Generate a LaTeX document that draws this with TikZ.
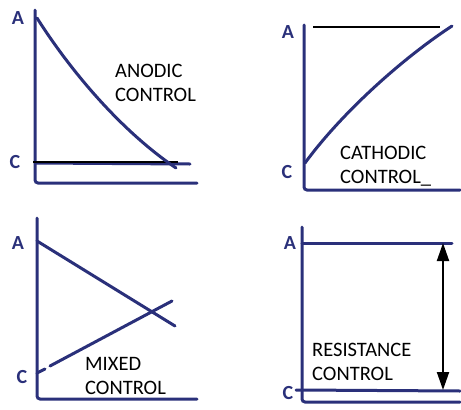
\documentclass[tikz,border=0pt]{standalone}
\usepackage{fontspec}
\setmainfont{Carlito}
\usetikzlibrary{arrows.meta}
\definecolor{inkblue}{RGB}{42,48,122}
\tikzset{
  axis/.style={draw=inkblue, line width=3pt, line cap=round, rounded corners=3pt},
  curve/.style={draw=inkblue, line width=3pt, line cap=round},
  level/.style={draw=black, line width=1.5pt},
  axlabel/.style={text=inkblue, font=\bfseries\fontsize{20}{20}\selectfont, inner sep=0pt},
  caption/.style={font=\fontsize{20.5}{24.5}\selectfont, align=left, anchor=west, inner sep=0pt},
  span/.style={draw=black, line width=2pt, {Triangle[width=12pt,length=18pt]}-{Triangle[width=12pt,length=18pt]}},
}
\begin{document}
\begin{tikzpicture}[x=1pt,y=-1pt]
\useasboundingbox (0,0) rectangle (461,410);
\draw[axis] (35,10) |- (197,183);
\draw[curve] (35,163) -- (190,164);
\draw[level] (33,162) -- (178,162);
\draw[curve] (37,18) .. controls (70,70) and (120,130) .. (176,168);
\node[axlabel] (a1) at (18,18) {A};
\node[axlabel] (c1) at (15,162) {C};
\node[caption] (anodic) at (115,83) {ANODIC\\CONTROL};
\draw[axis] (304,25) |- (460,190);
\draw[level] (313,27) -- (440,27);
\draw[curve] (305,163) .. controls (340,115) and (400,60) .. (452,26);
\node[axlabel] (a2) at (288,32) {A};
\node[axlabel] (c2) at (287,172) {C};
\node[caption] (cathodic) at (340,166) {CATHODIC\\CONTROL\_};
\draw[axis] (37,218) |- (197,399);
\draw[curve] (37,241) -- (175,326);
\draw[curve] (37,373) -- (45,369) (50,366) -- (172,301);
\node[axlabel] (a3) at (18,243) {A};
\node[axlabel] (c3) at (22,377) {C};
\node[caption] (mixed) at (85,376) {MIXED\\CONTROL};
\draw[axis] (302,227) |- (460,402);
\draw[curve] (302,243) -- (452,243);
\draw[curve] (296,390) -- (460,391);
\coordinate (top) at (443,243);
\coordinate (bot) at (443,390);
\draw[span] (top) -- (bot);
\node[axlabel] (a4) at (290,243) {A};
\node[axlabel] (c4) at (288,393) {C};
\node[caption] (resist) at (312,362) {RESISTANCE\\CONTROL};
\end{tikzpicture}
\end{document}
